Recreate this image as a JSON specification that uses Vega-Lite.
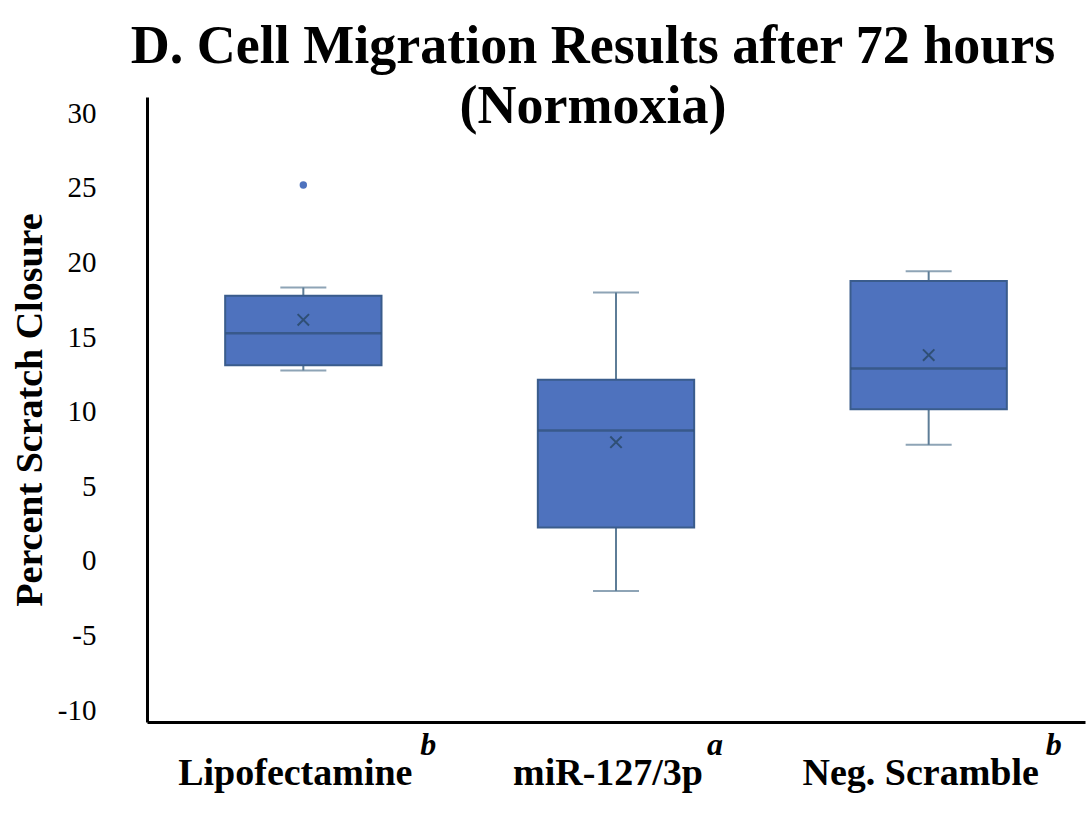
{
  "$schema": "https://vega.github.io/schema/vega-lite/v6.json",
  "width": 938,
  "height": 625,
  "autosize": {"type": "none"},
  "padding": {"left": 147, "top": 97, "right": 6, "bottom": 100},
  "background": "white",
  "title": {
    "text": ["D. Cell Migration Results after 72 hours", "(Normoxia)"],
    "font": "Liberation Serif",
    "fontSize": 54,
    "fontWeight": "bold",
    "color": "black",
    "anchor": "middle",
    "frame": "group",
    "dx": -23,
    "offset": -37,
    "lineHeight": 60
  },
  "config": {
    "view": {"stroke": null},
    "axis": {"grid": false, "ticks": false}
  },
  "datasets": {
    "boxes": [
      {"group": "Lipofectamine", "lo": 12.77, "q1": 13.12, "med": 15.27, "q3": 17.77, "hi": 18.33, "mean": 16.16, "sup": "b"},
      {"group": "miR-127/3p", "lo": -2.01, "q1": 2.24, "med": 8.75, "q3": 12.14, "hi": 18.0, "mean": 7.96, "sup": "a"},
      {"group": "Neg. Scramble", "lo": 7.78, "q1": 10.17, "med": 12.9, "q3": 18.76, "hi": 19.41, "mean": 13.8, "sup": "b"}
    ],
    "outliers": [
      {"group": "Lipofectamine", "value": 25.2}
    ]
  },
  "data": {"name": "boxes"},
  "encoding": {
    "x": {
      "field": "group",
      "type": "nominal",
      "sort": ["Lipofectamine", "miR-127/3p", "Neg. Scramble"],
      "scale": {"domain": ["Lipofectamine", "miR-127/3p", "Neg. Scramble"], "paddingInner": 0.5, "paddingOuter": 0.25},
      "axis": {
        "title": null,
        "labelAngle": 0,
        "labelLimit": 0,
        "labelFont": "Liberation Serif",
        "labelFontSize": 38,
        "labelFontWeight": "bold",
        "labelColor": "black",
        "labelPadding": 32,
        "labelOffset": -8,
        "domainColor": "black",
        "domainWidth": 3
      }
    }
  },
  "layer": [
    {
      "mark": {"type": "rule", "color": "#5E7D97", "strokeWidth": 2},
      "encoding": {
        "y": {
          "field": "lo",
          "type": "quantitative",
          "scale": {"domain": [-10.8, 31.1], "nice": false, "zero": false},
          "axis": {
            "values": [-10, -5, 0, 5, 10, 15, 20, 25, 30],
            "labelExpr": "'' + datum.value",
            "title": "Percent Scratch Closure",
            "titleFont": "Liberation Serif",
            "titleFontSize": 38,
            "titleFontWeight": "bold",
            "titleColor": "black",
            "titlePadding": 8,
            "labelFont": "Liberation Serif",
            "labelFontSize": 29,
            "labelColor": "black",
            "labelPadding": 51,
            "domainColor": "black",
            "domainWidth": 3
          }
        },
        "y2": {"field": "hi"}
      }
    },
    {
      "mark": {"type": "tick", "color": "#5E7D97", "size": 46, "thickness": 2},
      "encoding": {"y": {"field": "lo", "type": "quantitative"}}
    },
    {
      "mark": {"type": "tick", "color": "#5E7D97", "size": 46, "thickness": 2},
      "encoding": {"y": {"field": "hi", "type": "quantitative"}}
    },
    {
      "mark": {"type": "bar", "fill": "#4E72BE", "stroke": "#3A5C8C", "strokeWidth": 2},
      "encoding": {
        "y": {"field": "q1", "type": "quantitative"},
        "y2": {"field": "q3"}
      }
    },
    {
      "mark": {"type": "tick", "color": "#2F4F75", "size": 156, "thickness": 2.5},
      "encoding": {"y": {"field": "med", "type": "quantitative"}}
    },
    {
      "mark": {"type": "point", "shape": "M-1,-1L1,1M1,-1L-1,1", "filled": false, "stroke": "#2F4F75", "strokeWidth": 2, "size": 130, "opacity": 1},
      "encoding": {"y": {"field": "mean", "type": "quantitative"}}
    },
    {
      "data": {"name": "outliers"},
      "mark": {"type": "point", "shape": "circle", "filled": true, "color": "#4E72BE", "size": 55, "opacity": 1},
      "encoding": {"y": {"field": "value", "type": "quantitative"}}
    },
    {
      "transform": [{"filter": "datum.group === 'Lipofectamine'"}],
      "mark": {"type": "text", "font": "Liberation Serif", "fontSize": 32, "fontWeight": "bold", "fontStyle": "italic", "color": "black", "align": "left", "baseline": "middle", "dx": 117, "dy": 23},
      "encoding": {"y": {"datum": -10.8}, "text": {"field": "sup"}}
    },
    {
      "transform": [{"filter": "datum.group === 'miR-127/3p'"}],
      "mark": {"type": "text", "font": "Liberation Serif", "fontSize": 32, "fontWeight": "bold", "fontStyle": "italic", "color": "black", "align": "left", "baseline": "middle", "dx": 91, "dy": 23},
      "encoding": {"y": {"datum": -10.8}, "text": {"field": "sup"}}
    },
    {
      "transform": [{"filter": "datum.group === 'Neg. Scramble'"}],
      "mark": {"type": "text", "font": "Liberation Serif", "fontSize": 32, "fontWeight": "bold", "fontStyle": "italic", "color": "black", "align": "left", "baseline": "middle", "dx": 117, "dy": 23},
      "encoding": {"y": {"datum": -10.8}, "text": {"field": "sup"}}
    }
  ]
}
